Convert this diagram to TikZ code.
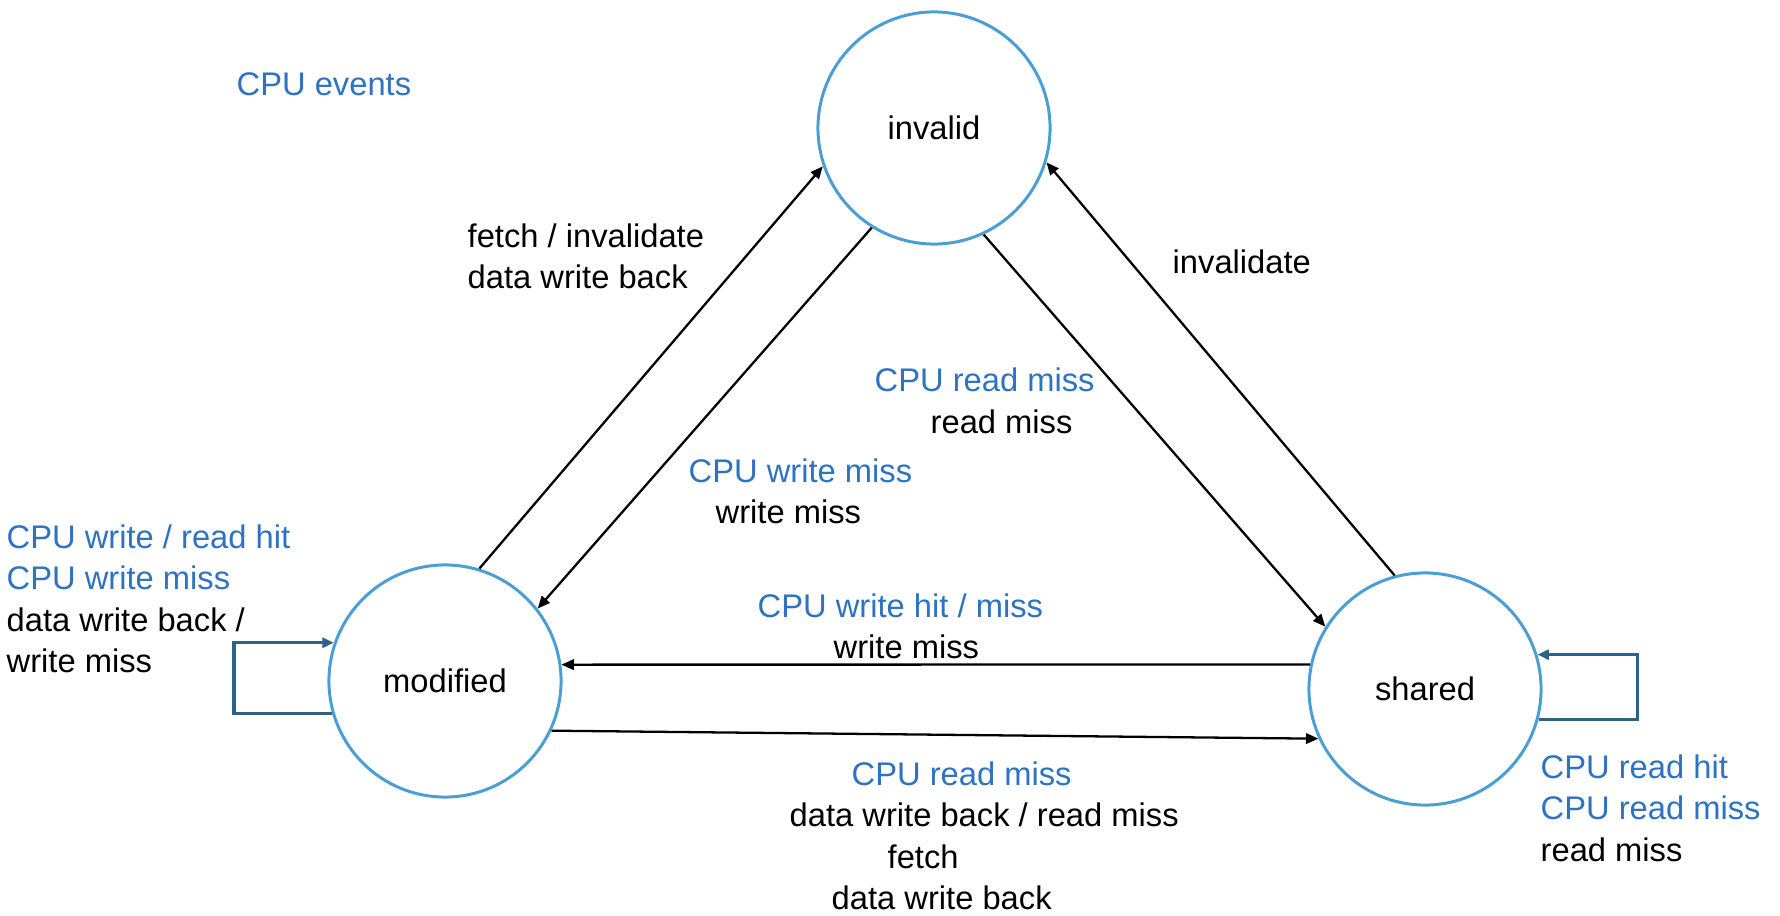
\documentclass[tikz,border=0pt]{standalone}
\usepackage{fontspec}
\setmainfont{Liberation Sans}
\usetikzlibrary{arrows.meta}
\definecolor{cpublue}{RGB}{46,114,194}
\definecolor{ringblue}{RGB}{74,158,212}
\definecolor{loopblue}{RGB}{48,98,136}
\begin{document}
\begin{tikzpicture}[x=0.01cm, y={(0cm,-0.01cm)},
  lbl/.style={anchor=base west, inner sep=0pt, font=\fontsize{9.3}{11.6}\selectfont},
  cpu/.style={lbl, text=cpublue},
  state/.style={circle, draw=ringblue, line width=0.85pt, minimum size=2.32cm, inner sep=0pt, font=\fontsize{9.3}{11.6}\selectfont},
  trans/.style={line width=0.65pt, -{Triangle[length=1.25mm,width=1.05mm]}},
  selfloop/.style={draw=loopblue, line width=0.9pt, -{Triangle[length=1.15mm,width=1mm]}}]
\useasboundingbox (0,0) rectangle (1780,916);

\node[state] (I) at (934,128) {invalid};
\node[state] (M) at (445,681) {modified};
\node[state] (S) at (1425,689) {shared};

% transitions
\draw[trans] (M.73.6) -- (I.199.4);
\draw[trans] (I.238.4) -- (M.38.2);
\draw[trans] (I.295.9) -- (S.148.9);
\draw[trans] (S.105.8) -- (I.343.5);
\draw[trans] (S.168.5) -- (M.8.4);
\draw[trans] (M.-25) -- (S.205.9);

% self loops
\draw[selfloop] (M.196.6) -- ++(-98,0) |- (M.161.3);
\draw[selfloop] (S.345.2) -- ++(99,0) |- (S.17);

% labels
\node[cpu] (ev) at (236,96) {CPU events};

\node[lbl] (l1a) at (467,248) {fetch / invalidate};
\node[lbl] (l1b) at (467,289) {data write back};

\node[lbl] (l2) at (1172,274) {invalidate};

\node[cpu] (l3a) at (874,392) {CPU read miss};
\node[lbl] (l3b) at (930,433) {read miss};

\node[cpu] (l4a) at (688,482) {CPU write miss};
\node[lbl] (l4b) at (715,523) {write miss};

\node[cpu] (l5a) at (6,548) {CPU write / read hit};
\node[cpu] (l5b) at (6,589) {CPU write miss};
\node[lbl] (l5c) at (6,631) {data write back /};
\node[lbl] (l5d) at (6,672) {write miss};

\node[cpu] (l6a) at (757,617) {CPU write hit / miss};
\node[lbl] (l6b) at (833,658) {write miss};

\node[cpu] (l7a) at (851,785) {CPU read miss};
\node[lbl] (l7b) at (789,826) {data write back / read miss};
\node[lbl] (l7c) at (887,868) {fetch};
\node[lbl] (l7d) at (831,909) {data write back};

\node[cpu] (l8a) at (1540,778) {CPU read hit};
\node[cpu] (l8b) at (1540,819) {CPU read miss};
\node[lbl] (l8c) at (1540,861) {read miss};
\end{tikzpicture}
\end{document}
